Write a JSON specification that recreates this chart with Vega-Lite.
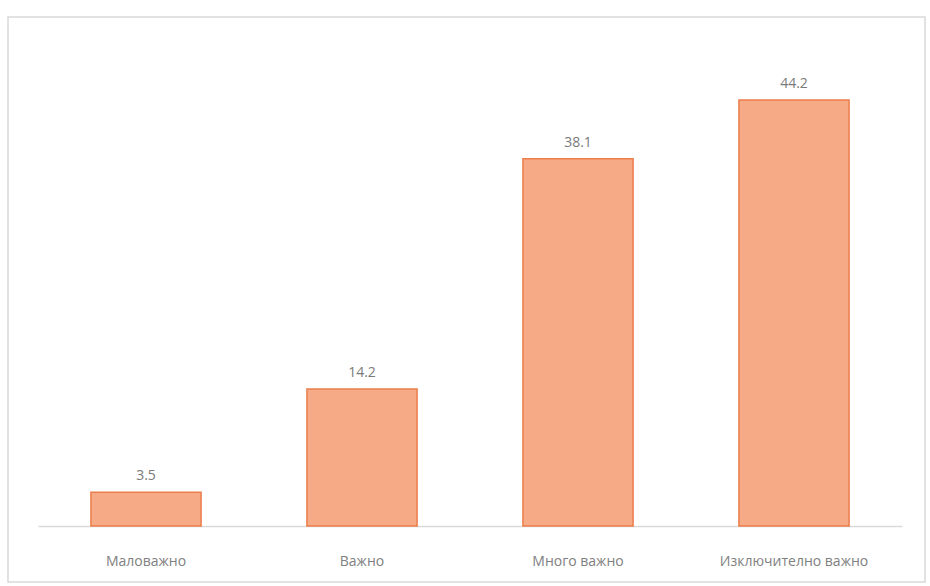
{
  "$schema": "https://vega.github.io/schema/vega-lite/v6.json",
  "width": 917,
  "height": 565,
  "autosize": "none",
  "padding": {"left": 8, "top": 17, "right": 5, "bottom": 4},
  "background": "white",
  "config": {"view": {"stroke": "#d9d9d9", "strokeWidth": 1.5}, "font": "Open Sans"},
  "data": {"values": [
    {"cat": "Маловажно", "v": 3.5},
    {"cat": "Важно", "v": 14.2},
    {"cat": "Много важно", "v": 38.1},
    {"cat": "Изключително важно", "v": 44.2}
  ]},
  "encoding": {
    "x": {"field": "cat", "type": "nominal", "sort": null,
      "scale": {"range": [30, 894], "paddingInner": 0.49, "paddingOuter": 0.245},
      "axis": {"title": null, "labelAngle": 0, "ticks": false, "grid": false, "offset": -56,
        "domainColor": "#d9d9d9", "domainWidth": 1.5, "labelColor": "#808080", "labelFontSize": 14,
        "labelPadding": 28, "labelFont": "Open Sans"}},
    "y": {"field": "v", "type": "quantitative",
      "scale": {"domain": [0, 50], "range": [509, 27]}, "axis": null}
  },
  "layer": [
    {"mark": {"type": "bar", "fill": "#F7AA86", "stroke": "#EB7E4C", "strokeWidth": 1.5}},
    {"mark": {"type": "text", "baseline": "bottom", "dy": -9, "fontSize": 14, "color": "#7a7a7a"},
     "encoding": {"text": {"field": "v", "type": "quantitative", "format": ".1f"}}}
  ]
}
